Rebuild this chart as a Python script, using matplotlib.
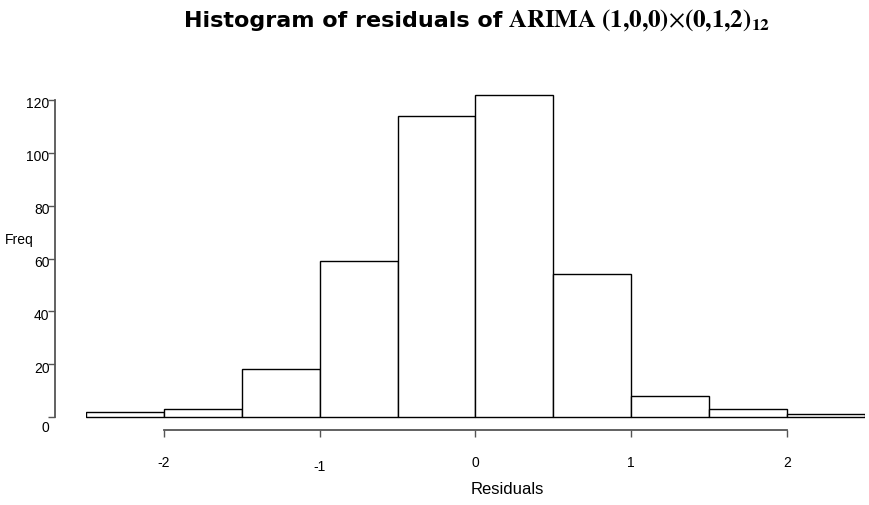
import matplotlib
matplotlib.use("Agg")
import matplotlib.pyplot as plt
import matplotlib.transforms as mtransforms
import numpy as np

plt.rcParams['font.family'] = ['Liberation Sans', 'DejaVu Sans']
plt.rcParams['mathtext.fontset'] = 'stix'

bin_edges = [-2.5, -2.0, -1.5, -1.0, -0.5, 0.0, 0.5, 1.0, 1.5, 2.0, 2.5]
counts = [2, 3, 18, 59, 114, 122, 54, 8, 3, 1]
x_ticks = [-2, -1, 0, 1, 2]
x_tick_labels = ['-2', '-1', '0', '1', '2']
y_ticks = [0, 20, 40, 60, 80, 100, 120]
y_tick_labels = ['0', '20', '40', '60', '80', '100', '120']

W, H = 870, 505
fig = plt.figure(figsize=(W / 100, H / 100), dpi=100)

# pixel geometry
x_left_px, x_right_px = 86, 865
y0_px = 417.0
ppu = (417.0 - 100.0) / 120.0
ax_bottom_px = 430
ylo = -(ax_bottom_px - y0_px) / ppu
yhi = 125
ax_top_px = y0_px - yhi * ppu

ax = fig.add_axes([x_left_px / W, 1 - ax_bottom_px / H,
                   (x_right_px - x_left_px) / W, (ax_bottom_px - ax_top_px) / H])
ax.set_xlim(bin_edges[0], bin_edges[-1])
ax.set_ylim(ylo, yhi)

widths = np.diff(bin_edges)
ax.bar(bin_edges[:-1], counts, width=widths, align='edge',
       facecolor='white', edgecolor='black', linewidth=1.0)

for s in ['top', 'right']:
    ax.spines[s].set_visible(False)
ax.spines['left'].set_bounds(0, 120)
ax.spines['left'].set_position(('outward', (86 - 55) * 0.72))
ax.spines['bottom'].set_bounds(-2, 2)
for s in ['left', 'bottom']:
    ax.spines[s].set_color('#555555')
    ax.spines[s].set_linewidth(1.3)

ax.set_xticks(x_ticks)
ax.set_xticklabels(x_tick_labels)
ax.set_yticks(y_ticks)
ax.set_yticklabels(y_tick_labels)
ax.tick_params(axis='x', length=5, width=1.0, color='#555555', pad=14, labelsize=10)
ax.tick_params(axis='y', length=5, width=1.0, color='#555555', pad=-1, labelsize=10)

# small offsets seen in the reference
for lab in ax.get_yticklabels():
    off = 10 if lab.get_text() == '0' else 3
    lab.set_transform(lab.get_transform() + mtransforms.ScaledTranslation(0, -off / 100, fig.dpi_scale_trans))
for lab in ax.get_xticklabels():
    if lab.get_text() == '-1':
        lab.set_transform(lab.get_transform() + mtransforms.ScaledTranslation(0, -4 / 100, fig.dpi_scale_trans))

fig.text(5 / W, 1 - 240 / H, 'Freq', fontsize=10, ha='left', va='center')
fig.text(507 / W, 1 - 490 / H, 'Residuals', fontsize=12, ha='center', va='center')

# title: sans bold part + serif bold part
fig.text(502 / W, 1 - 27 / H, 'Histogram of residuals of',
         fontsize=16, fontweight='bold', family='DejaVu Sans', ha='right', va='baseline')
fig.text(508 / W, 1 - 27 / H,
         r'$\mathbf{ARIMA\ (1{,}0{,}0)}{\times}\mathbf{(0{,}1{,}2)}_{\mathbf{12}}$',
         fontsize=18, ha='left', va='baseline')

fig.savefig('out.png', dpi=100)
